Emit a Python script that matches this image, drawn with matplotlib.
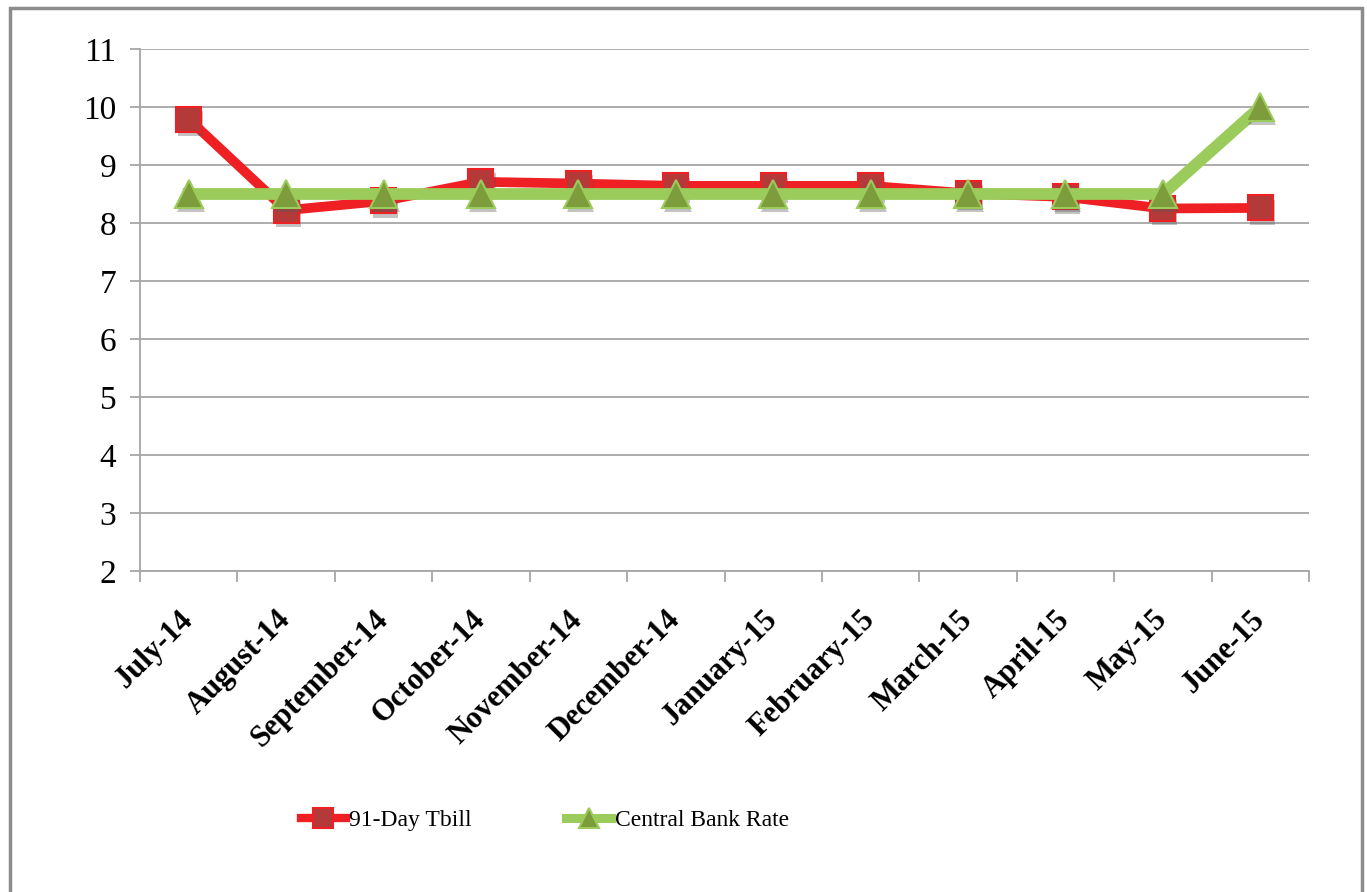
import numpy as np
import matplotlib
matplotlib.use("Agg")
import matplotlib.pyplot as plt
from matplotlib.patches import Rectangle
from matplotlib.lines import Line2D
import matplotlib.patheffects as pe

# =========================
# DATA
# =========================

months = ["July-14", "August-14", "September-14", "October-14", "November-14",
          "December-14", "January-15", "February-15", "March-15", "April-15",
          "May-15", "June-15"]
tbill = [9.79, 8.22, 8.38, 8.71, 8.68, 8.64, 8.64, 8.64, 8.51, 8.45, 8.25, 8.26]
cbr = [8.5, 8.5, 8.5, 8.5, 8.5, 8.5, 8.5, 8.5, 8.5, 8.5, 8.5, 10.0]
yticks = [2, 3, 4, 5, 6, 7, 8, 9, 10, 11]

# =========================
# STYLE
# =========================

plt.rcParams['font.family'] = ['Liberation Serif', 'DejaVu Serif']
GRID = "#a6a6a6"
RED = "#ee2024"
RED_FACE = "#b43a3a"
GREEN = "#9bcb5a"
GREEN_FACE = "#7d9c3c"

red_style = dict(color=RED, lw=7, marker="s", ms=18, mfc=RED_FACE, mec=RED, mew=1.5)
green_style = dict(color=GREEN, lw=8.5, marker="^", ms=20, mfc=GREEN_FACE, mec=GREEN, mew=1.5)

fig = plt.figure(figsize=(13.67, 8.92), dpi=100)
ax = fig.add_axes([140 / 1367, 1 - 571 / 892, (1309 - 140) / 1367, (571 - 49) / 892])

x = np.arange(len(months))
shadow = [pe.SimplePatchShadow(offset=(1.5, -3), shadow_rgbFace="#555555", alpha=0.35), pe.Normal()]

# lines first, then markers with a soft drop shadow
ax.plot(x, tbill, color=RED, lw=red_style["lw"], zorder=3)
ax.plot(x, tbill, ls="none", marker="s", ms=red_style["ms"], mfc=RED_FACE, mec=RED, mew=1.5,
        zorder=3.5, path_effects=shadow)
ax.plot(x, cbr, color=GREEN, lw=green_style["lw"], zorder=4)
ax.plot(x, cbr, ls="none", marker="^", ms=green_style["ms"], mfc=GREEN_FACE, mec=GREEN, mew=1.5,
        zorder=4.5, path_effects=shadow)

ax.set_ylim(2, 11)
ax.set_yticks(yticks)
ax.set_xlim(-0.5, len(months) - 0.5)

# category boundaries as tick marks, labels at centres
ax.set_xticks(np.arange(-0.5, len(months)), labels=[])
ax.set_xticks(x, minor=True)
ax.set_xticklabels(months, minor=True, rotation=45, ha="right", va="center",
                   rotation_mode="anchor", fontsize=22, fontweight="bold")
ax.tick_params(axis="x", which="major", length=8, color=GRID, width=1.3)
ax.tick_params(axis="x", which="minor", length=0, pad=32)
ax.tick_params(axis="y", length=7, color=GRID, width=1.3, labelsize=24, pad=10)

ax.yaxis.grid(True, color=GRID, lw=1.3)
ax.set_axisbelow(True)
for s in ["top", "right"]:
    ax.spines[s].set_visible(False)
for s in ["left", "bottom"]:
    ax.spines[s].set_color(GRID)
    ax.spines[s].set_linewidth(1.3)

handles = [Line2D([], [], **{**red_style, "ms": 14, "lw": 6}),
           Line2D([], [], **{**green_style, "ms": 15, "lw": 6.5})]
fig.legend(handles, ["91-Day Tbill", "Central Bank Rate"], loc="center",
           bbox_to_anchor=(545 / 1367, 1 - 820 / 892), ncol=2, frameon=False,
           fontsize=17, handlelength=1.9, handletextpad=0.15, columnspacing=4.0)

# outer chart frame
fig.patches.append(Rectangle((10 / 1367, -0.05), (1362 - 10) / 1367, 1.05 - 8 / 892,
                             transform=fig.transFigure, fill=False, ec="#8c8c8c", lw=2.5))

fig.savefig("out.png", dpi=100)
